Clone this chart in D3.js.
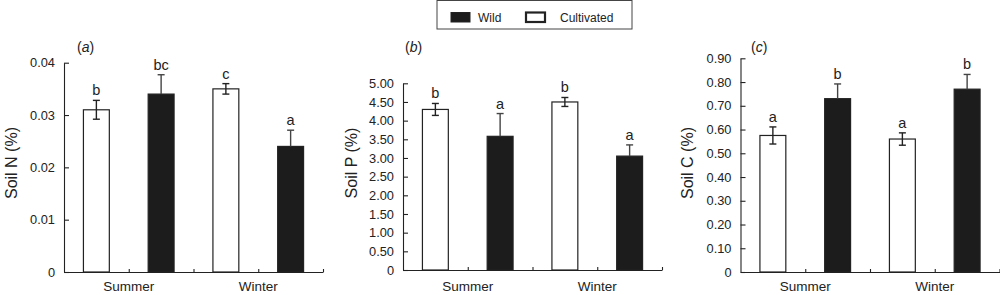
<!DOCTYPE html>
<html>
<head>
<meta charset="utf-8">
<script src="https://cdn.jsdelivr.net/npm/d3@7"></script>
<style>
  html, body { margin:0; padding:0; background:#fff; }
  svg { display:block; }
</style>
</head>
<body>
<div id="chart"></div>
<script>
// ---- data (order: Summer-Cultivated, Summer-Wild, Winter-Cultivated, Winter-Wild)
const seasons = ["Summer", "Winter"];
const groups  = ["Cultivated", "Wild"];
const legendOrder = ["Wild", "Cultivated"];

const soilN    = [0.031, 0.034, 0.035, 0.024];
const soilNErr = [0.0018, 0.0037, 0.0010, 0.0031];
const soilNLet = ["b", "bc", "c", "a"];

const soilP    = [4.30, 3.58, 4.50, 3.05];
const soilPErr = [0.16, 0.61, 0.12, 0.30];
const soilPLet = ["b", "a", "b", "a"];

const soilC    = [0.575, 0.73, 0.56, 0.77];
const soilCErr = [0.036, 0.062, 0.026, 0.062];
const soilCLet = ["a", "b", "a", "b"];

const nTicks = [0, 0.01, 0.02, 0.03, 0.04];
const pTicks = [0, 0.5, 1, 1.5, 2, 2.5, 3, 3.5, 4, 4.5, 5];
const cTicks = [0, 0.1, 0.2, 0.3, 0.4, 0.5, 0.6, 0.7, 0.8, 0.9];

// ---- layout
const W = 1000, H = 295;
const FONT = "'Liberation Sans', Arial, Helvetica, sans-serif";
const INK = "#222";
const BLACK = "#1c1c1c";

const panels = [
  { tag:"a", title:"Soil N (%)", mean:soilN, err:soilNErr, lets:soilNLet, ticks:nTicks,
    x0:64,    x1:323,   yTop:62.7, yBot:272, titleX:17,  tagX:77 },
  { tag:"b", title:"Soil P (%)", mean:soilP, err:soilPErr, lets:soilPLet, ticks:pTicks,
    x0:403,   x1:662,   yTop:83.3, yBot:270, titleX:357, tagX:405 },
  { tag:"c", title:"Soil C (%)", mean:soilC, err:soilCErr, lets:soilCLet, ticks:cTicks,
    x0:740.5, x1:999.5, yTop:58.3, yBot:272, titleX:693, tagX:751 }
];

const svg = d3.select("#chart").append("svg")
  .attr("width", W).attr("height", H)
  .attr("font-family", FONT);

const keys = seasons.flatMap(s => groups.map(g => `${s}|${g}`));
const fmt = d => d === 0 ? "0" : d3.format(".2f")(d);

panels.forEach(p => {
  const g = svg.append("g");
  const yMax = p.ticks[p.ticks.length - 1];

  const x = d3.scaleBand().domain(keys).range([p.x0, p.x1])
    .paddingInner(0.6).paddingOuter(0.3);
  const xs = d3.scaleBand().domain(seasons).range([p.x0, p.x1]);
  const slot = d3.scaleLinear().domain([0, keys.length]).range([p.x0, p.x1]);
  const y = d3.scaleLinear().domain([0, yMax]).range([p.yBot, p.yTop]);

  // y axis, ticks pointing inward
  const yAx = g.append("g").attr("transform", `translate(${p.x0},0)`)
    .call(d3.axisLeft(y).tickValues(p.ticks).tickFormat(fmt)
      .tickSize(-5).tickSizeOuter(0).tickPadding(9));
  // x axis: small inward ticks on slot boundaries
  const xAx = g.append("g").attr("transform", `translate(0,${p.yBot})`)
    .call(d3.axisBottom(slot).tickValues([1, 2, 3, 4]).tickFormat("")
      .tickSize(-3).tickSizeOuter(0));
  [yAx, xAx].forEach(a => {
    a.selectAll("path,line").attr("stroke", INK).attr("stroke-width", 1.1);
    a.selectAll("text").attr("fill", INK).attr("font-family", FONT).attr("font-size", 12.8);
  });

  // bars
  const rows = keys.map((k, i) => ({ k, wild: k.endsWith("Wild"), m: p.mean[i], e: p.err[i], l: p.lets[i] }));
  g.selectAll("rect.bar").data(rows).join("rect").attr("class", "bar")
    .attr("x", d => x(d.k)).attr("width", x.bandwidth())
    .attr("y", d => y(d.m)).attr("height", d => y(0) - y(d.m))
    .attr("fill", d => d.wild ? BLACK : "#fff")
    .attr("stroke", INK).attr("stroke-width", 1.2);

  // error bars (lower half of wild bars is hidden in the black fill)
  const cx = d => x(d.k) + x.bandwidth() / 2;
  const eb = g.selectAll("g.err").data(rows).join("g").attr("class", "err")
    .attr("stroke", d => d.wild ? "#444" : INK).attr("stroke-width", 1.4);
  eb.append("line").attr("x1", cx).attr("x2", cx)
    .attr("y1", d => y(d.m + d.e)).attr("y2", d => d.wild ? y(d.m) : y(d.m - d.e));
  eb.append("line").attr("x1", d => cx(d) - 3.5).attr("x2", d => cx(d) + 3.5)
    .attr("y1", d => y(d.m + d.e)).attr("y2", d => y(d.m + d.e));
  eb.filter(d => !d.wild).append("line")
    .attr("x1", d => cx(d) - 3.5).attr("x2", d => cx(d) + 3.5)
    .attr("y1", d => y(d.m - d.e)).attr("y2", d => y(d.m - d.e));

  // significance letters
  g.selectAll("text.let").data(rows).join("text").attr("class", "let")
    .attr("x", cx).attr("y", d => y(d.m + d.e) - 5)
    .attr("text-anchor", "middle").attr("font-size", 14.5).attr("fill", INK)
    .text(d => d.l);

  // season labels
  g.selectAll("text.season").data(seasons).join("text").attr("class", "season")
    .attr("x", d => xs(d) + xs.bandwidth() / 2).attr("y", 291)
    .attr("text-anchor", "middle").attr("font-size", 13.5).attr("fill", INK)
    .text(d => d);

  // y title
  g.append("text")
    .attr("transform", `translate(${p.titleX},163) rotate(-90)`)
    .attr("text-anchor", "middle").attr("font-size", 16).attr("fill", INK)
    .text(p.title);

  // panel tag
  const t = g.append("text").attr("x", p.tagX).attr("y", 51.5)
    .attr("font-size", 14).attr("fill", INK);
  t.append("tspan").text("(");
  t.append("tspan").attr("font-style", "italic").text(p.tag);
  t.append("tspan").text(")");
});

// ---- legend
const lg = svg.append("g");
lg.append("rect").attr("x", 437).attr("y", 0.5).attr("width", 195).attr("height", 28.5)
  .attr("fill", "#fff").attr("stroke", "#444").attr("stroke-width", 1);
const lx = d3.scaleOrdinal().domain(legendOrder).range([451, 526]);
const li = lg.selectAll("g.item").data(legendOrder).join("g").attr("class", "item")
  .attr("transform", d => `translate(${lx(d)},12.5)`);
li.append("rect").attr("width", 19).attr("height", 9.5)
  .attr("fill", d => d === "Wild" ? BLACK : "#fff")
  .attr("stroke", INK).attr("stroke-width", d => d === "Wild" ? 1 : 2.2);
li.append("text").attr("x", d => d === "Wild" ? 27 : 34).attr("y", 9)
  .attr("font-size", 12).attr("fill", INK).text(d => d);
</script>
</body>
</html>
